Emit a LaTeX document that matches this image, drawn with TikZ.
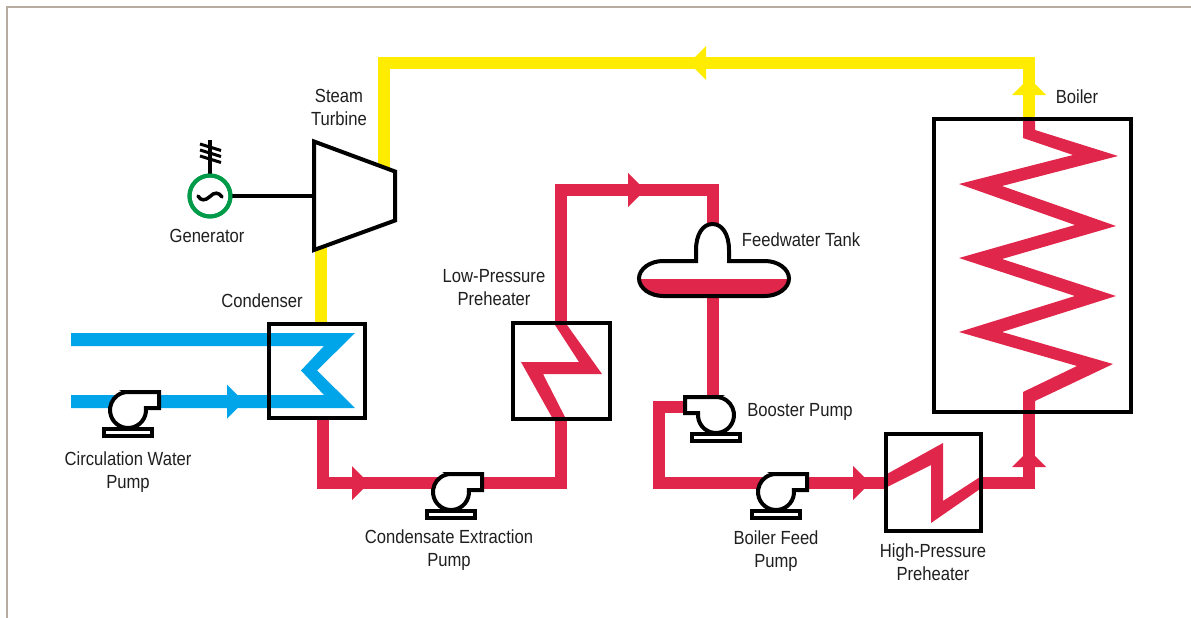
\documentclass[tikz,border=0pt]{standalone}
\usepackage{fontspec}
\setmainfont[FakeStretch=0.875]{Liberation Sans}
\usetikzlibrary{arrows.meta,calc,positioning}
\definecolor{steamyellow}{HTML}{FFEC00}
\definecolor{waterred}{HTML}{E1264B}
\definecolor{coolblue}{HTML}{00A5E9}
\definecolor{gengreen}{HTML}{009B48}
\definecolor{frametan}{HTML}{B8ACA0}
\tikzset{
pipe/.style={line width=12,line cap=butt,miter limit=10},
unit/.style={inner sep=0,outer sep=0},
boxline/.style={draw,line width=4},
wire/.style={line width=3.5},
lab/.style={font=\fontsize{19}{23}\selectfont,text=black!88,align=center,inner sep=0},
flowtip/.pic={\fill[pic actions] (0,-17) -- (17,0) -- (0,17) -- cycle;},
pump/.pic={
\draw[line width=4,fill=white] (-24,19) rectangle (24,26);
\draw[line width=4,fill=white] (0,-18) -- (31,-18) -- (31,-2) -- (17.9,-2)
arc[start angle=-6.4,end angle=270,radius=18] -- cycle;
\coordinate (-c) at (0,0);
}}
\newcommand{\TankOutline}{(696,261) -- (663,261) .. controls (650,261) and (639,269) .. (639,278.5)
.. controls (639,288) and (650,296) .. (663,296) -- (765,296)
.. controls (778,296) and (789,288) .. (789,278.5) .. controls (789,269) and (778,261) .. (765,261)
-- (729,261) -- (729,250) .. controls (729,234) and (722,224) .. (712.5,224)
.. controls (703,224) and (696,234) .. (696,250) -- cycle}
\begin{document}
\begin{tikzpicture}[x=1pt,y=-1pt]
\useasboundingbox (0,0) rectangle (1191,618);
\draw[frametan,line width=2] (7,618) -- (7,7) -- (1191,7);
\node[unit,minimum width=96,minimum height=94] (Cond) at (317,371) {};
\node[unit,minimum width=97,minimum height=96] (LP) at (561.5,371) {};
\node[unit,minimum width=95,minimum height=97] (HP) at (933.5,482.5) {};
\node[unit,minimum width=197,minimum height=293] (Boil) at (1032.5,265.5) {};
\coordinate (TurbIn) at (384,185);
\coordinate (TurbOut) at (321,235);
\coordinate (TurbW) at (313,196);
\coordinate (TankT) at (713,240);
\coordinate (TankB) at (713,290);
\coordinate (BoilT) at (1029,117);
\coordinate (BoilB) at (1029,414);
\coordinate (CondOut) at (323,420);
\coordinate (CondIn) at (321,322);
\coordinate (LPT) at (561,321);
\coordinate (LPB) at (561,421);
\coordinate (BoosterIn) at (713,400);
\coordinate (BoosterOut) at (690,407);
\coordinate (PoleTop) at (210,140);
\draw[pipe,steamyellow] (TurbIn) |- (BoilT |- 0,63) -- (BoilT);
\draw[pipe,steamyellow] (TurbOut) -- (CondIn);
\pic[fill=steamyellow] at (706,63) [rotate=180] {flowtip};
\pic[fill=steamyellow] at (1029,95) [rotate=90] {flowtip};
\draw[pipe,waterred] (CondOut) |- (LPB |- 0,483) -- (LPB);
\draw[pipe,waterred] (LPT) |- (TankT |- 0,190) -- (TankT);
\draw[pipe,waterred] (TankB) -- (BoosterIn);
\draw[pipe,waterred] (BoosterOut) -| (659,483) -- (HP.west |- 0,483);
\draw[pipe,waterred] (HP.east |- 0,483) -| (BoilB);
\pic[fill=waterred] at (352,483) {flowtip};
\pic[fill=waterred] at (628,190) {flowtip};
\pic[fill=waterred] at (853,483) {flowtip};
\pic[fill=waterred] at (1029,467) [rotate=90] {flowtip};
\fill[waterred] (555,325) -- (579,362) -- (521,362) -- (554,421) -- (567,421) -- (543,374) -- (602,374) -- (567,325) -- (567,321) -- (555,321) -- cycle;
\fill[waterred] (887,474) -- (943,443) -- (943,501) -- (980,477) -- (980,489) -- (931,523) -- (931,465) -- (887,487) -- cycle;
\fill[waterred] (1023,117) -- (1035,117) -- (1035,130) -- (1118,156) -- (1002,186) -- (1116,226) -- (1002,259) -- (1116,296) -- (1002,332) -- (1113,364) -- (1035,401) -- (1035,414) -- (1023,414) -- (1023,392) -- (1077,366) -- (959,332) -- (1075,296) -- (959,258) -- (1075,225) -- (959,184) -- (1073,155) -- (1023,138) -- cycle;
\fill[coolblue] (71,333) -- (355,333) -- (317,370.5) -- (355,408) -- (71,408) -- (71,395) -- (324,395) -- (301,370.5) -- (324,346) -- (71,346) -- cycle;
\pic[fill=coolblue] at (227,401.5) {flowtip};
\draw[boxline] (Cond.south west) rectangle (Cond.north east);
\draw[boxline] (LP.south west) rectangle (LP.north east);
\draw[boxline] (HP.south west) rectangle (HP.north east);
\draw[boxline] (Boil.south west) rectangle (Boil.north east);
\draw[line width=4,fill=white] (314,141.5) -- (395,171.5) -- (395,220.5) -- (314,250) -- cycle;
\node[circle,draw=gengreen,line width=4,minimum size=41,inner sep=0,outer sep=0] (Gen) at (210,196) {};
\draw[wire] (Gen) -- (TurbW);
\draw[wire] (Gen) -- (PoleTop);
\node[circle,draw=gengreen,line width=4,minimum size=41,inner sep=0,outer sep=0] at (Gen) {};
\draw[line width=3] (200,144) -- (221,150.5) (200,150) -- (221,156.5) (200,156) -- (221,162.5);
\draw[line width=3.5,line cap=round] (198,196) .. controls (201,201) and (205,201) .. (210,196.5) .. controls (214,192) and (219,192) .. (222,197);
\fill[white] \TankOutline;
\begin{scope}
\clip (630,279) rectangle (800,300);
\fill[waterred] \TankOutline;
\end{scope}
\draw[line width=4] \TankOutline;
\pic (CWP) at (128,410) {pump};
\pic (CEP) at (451,492) {pump};
\pic (BFP) at (776,492) {pump};
\pic[xscale=-1] (BP) at (716,415) {pump};
\node[lab] (LTurb) at (339,107) {Steam\\Turbine};
\node[lab] (LGen) at (207,236) {Generator};
\node[lab] (LCond) at (262,301) {Condenser};
\node[lab] (LCWP) at (128,472.5) {Circulation Water\\Pump};
\node[lab] (LCEP) at (449,550) {Condensate Extraction\\Pump};
\node[lab] (LLP) at (494,288) {Low-Pressure\\Preheater};
\node[lab] (LTank) at (801,240) {Feedwater Tank};
\node[lab] (LBP) at (800,412) {Booster Pump};
\node[lab] (LBFP) at (776,551) {Boiler Feed\\Pump};
\node[lab] (LHP) at (933,562) {High-Pressure\\Preheater};
\node[lab] (LBoil) at (1077,97) {Boiler};
\end{tikzpicture}
\end{document}
